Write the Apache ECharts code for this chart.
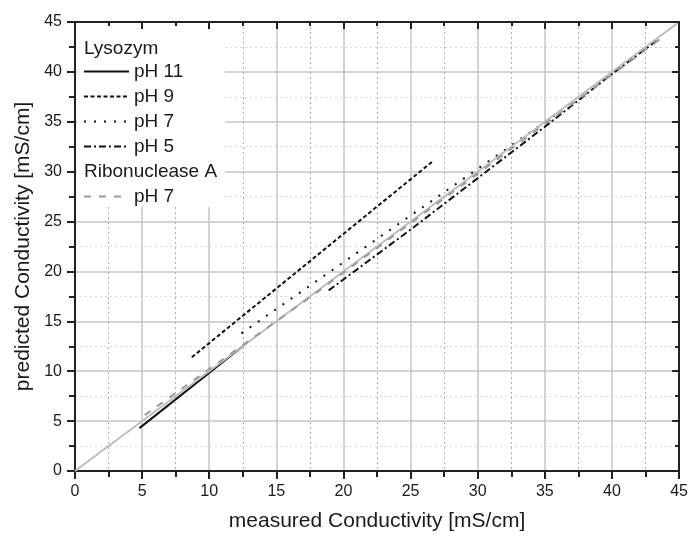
<!DOCTYPE html>
<html>
<head>
<meta charset="utf-8">
<script src="https://cdn.jsdelivr.net/npm/echarts@6/dist/echarts.min.js"></script>
<style>
  html, body { margin: 0; padding: 0; background: #fff; }
  #chart { width: 691px; height: 540px; }
</style>
</head>
<body>
<div id="chart"></div>
<script>
// values, [measured, predicted] in mS/cm
const lysoPH11 = [[4.8, 4.3], [12.5, 12.5]];
const lysoPH9 = [[8.7, 11.4], [26.7, 31.1]];
const lysoPH7 = [[12.4, 13.8], [25, 25.6], [36, 35.9]];
const lysoPH5 = [[18.9, 18.1], [25, 24.2], [35, 34.5], [40, 39.8], [43.4, 43.2]];
const riboPH7 = [[5.2, 5.6], [10.5, 10.7], [17.7, 17.6], [30, 29.8], [44, 43.7]];
const identity = [[0, 0], [45, 45]];

const axisMin = 0;
const axisMax = 45;
const axisStep = 5;

const FONT = "'Liberation Sans', Arial, sans-serif";
const TEXT = '#1a1a1a';

const chart = echarts.init(document.getElementById('chart'));

// main axes: outward ticks, grid lines
const mainAxis = (name, gap, minorColor) => ({
  type: 'value',
  min: axisMin,
  max: axisMax,
  interval: axisStep,
  name: name,
  nameLocation: 'middle',
  nameGap: gap,
  nameTextStyle: { fontFamily: FONT, fontSize: 21, color: TEXT },
  axisLine: { show: true, onZero: false, lineStyle: { color: '#222', width: 2 } },
  axisTick: { show: true, inside: false, length: 8, lineStyle: { color: '#222', width: 2 } },
  minorTick: { show: true, splitNumber: 2, length: 6, lineStyle: { color: '#222', width: 2 } },
  axisLabel: { fontFamily: FONT, fontSize: 16, color: TEXT, margin: 13 },
  splitLine: { show: true, lineStyle: { color: '#c6c6c6', width: 1.5 } },
  minorSplitLine: { show: true, lineStyle: { color: minorColor, width: 1, type: [2, 3] } }
});

// mirrored axes: inward ticks, no labels
const mirrorAxis = (position) => ({
  type: 'value',
  position: position,
  min: axisMin,
  max: axisMax,
  interval: axisStep,
  z: 10,
  axisLine: { show: true, onZero: false, lineStyle: { color: '#222', width: 2 } },
  axisTick: { show: true, inside: true, length: 7, lineStyle: { color: '#222', width: 2 } },
  minorTick: { show: true, splitNumber: 2, length: 4, lineStyle: { color: '#222', width: 2 } },
  axisLabel: { show: false },
  splitLine: { show: false }
});

const lineSeries = (name, data, color, dash, width) => ({
  name: name,
  type: 'line',
  data: data,
  showSymbol: false,
  symbol: 'none',
  silent: true,
  color: color,
  lineStyle: { color: color, width: width || 2, type: dash }
});

const option = {
  animation: false,
  grid: { left: 75, right: 11, top: 22, bottom: 69 },
  xAxis: [
    mainAxis('measured Conductivity [mS/cm]', 40, '#acacac'),
    mirrorAxis('top')
  ],
  yAxis: [
    mainAxis('predicted Conductivity [mS/cm]', 41, '#d6d6d6'),
    mirrorAxis('right')
  ],
  legend: {
    left: 83,
    top: 62,
    orient: 'vertical',
    padding: 0,
    itemWidth: 45,
    itemHeight: 14,
    itemGap: 6,
    selectedMode: false,
    itemStyle: { color: 'rgba(0,0,0,0)', borderWidth: 0, opacity: 0 },
    textStyle: { fontFamily: FONT, fontSize: 19, color: TEXT },
    formatter: (name) => name === 'Ribonuclease A' ? ' ' : name.replace(/^(Lysozym|Ribonuclease A) /, ''),
    data: [
      'Lysozym pH 11',
      'Lysozym pH 9',
      'Lysozym pH 7',
      'Lysozym pH 5',
      { name: 'Ribonuclease A', lineStyle: { opacity: 0 } },
      'Ribonuclease A pH 7'
    ]
  },
  graphic: [
    {
      type: 'rect',
      z: 3,
      shape: { x: 77, y: 23, width: 148, height: 184 },
      style: { fill: '#fff' }
    },
    {
      type: 'text',
      z: 5,
      left: 84,
      top: 39,
      style: { text: 'Lysozym', font: '19px ' + FONT, fill: TEXT }
    },
    {
      type: 'text',
      z: 5,
      left: 84,
      top: 162,
      style: { text: 'Ribonuclease A', font: '19px ' + FONT, fill: TEXT }
    }
  ],
  series: [
    lineSeries('Lysozym pH 9', lysoPH9, '#111', [4, 2.5]),
    lineSeries('Lysozym pH 7', lysoPH7, '#111', [2, 8]),
    lineSeries('Lysozym pH 5', lysoPH5, '#111', [7, 3, 2, 3]),
    lineSeries('Lysozym pH 11', lysoPH11, '#111', 'solid'),
    lineSeries('identity', identity, '#bdbdbd', 'solid'),
    lineSeries('Ribonuclease A pH 7', riboPH7, '#9a9a9a', [7, 8]),
    { name: 'Ribonuclease A', type: 'line', data: [], symbol: 'none', lineStyle: { opacity: 0 } }
  ]
};

chart.setOption(option);
</script>
</body>
</html>
